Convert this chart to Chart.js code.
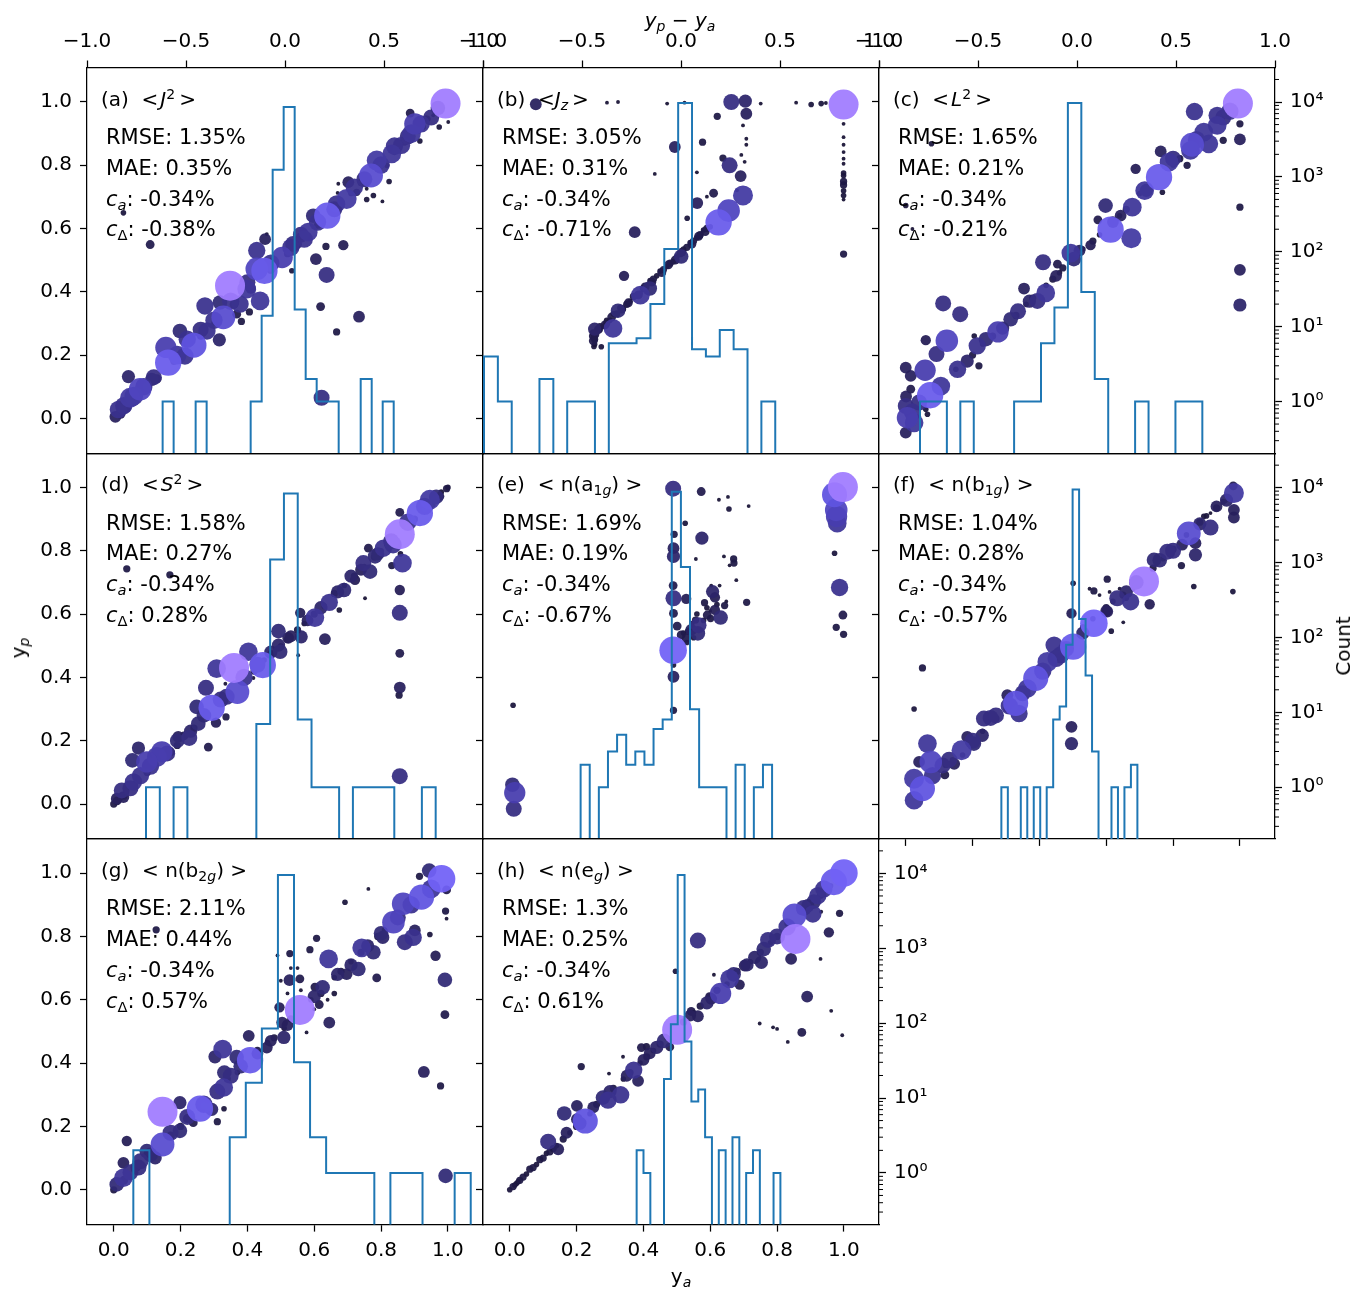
<!DOCTYPE html>
<html>
<head>
<meta charset="utf-8">
<script src="https://cdn.jsdelivr.net/npm/chart.js@4.4.1/dist/chart.umd.min.js"></script>
<style>
  body { margin: 0; background: #fff; font-family: 'DejaVu Sans', sans-serif; }
  #fig { position: relative; width: 1371px; height: 1292px; overflow: hidden; background: #fff; }
  #fig canvas { position: absolute; left: 0; top: 0; }
  .txt { position: absolute; color: #000; white-space: nowrap; }
  .ttl { font-size: 20px; line-height: 24px; }
  .stats { font-size: 21px; line-height: 30.8px; }
  .axlab { font-size: 20px; line-height: 24px; }
  sub { font-size: 0.7em; vertical-align: -0.28em; line-height: 0; }
  sup { font-size: 0.7em; vertical-align: 0.5em; line-height: 0; }
</style>
</head>
<body>
<div id="fig"></div>
<script>
// panel labels and scores
const panelTags = ['a', 'b', 'c', 'd', 'e', 'f', 'g', 'h'];
const panelNames = [
  '&lt;&#8202;<i>J</i><sup>2</sup>&#8201;&gt;',
  '&lt;<i>J<sub>z</sub></i>&#8201;&gt;',
  '&lt;&#8202;<i>L</i><sup>2</sup>&#8201;&gt;',
  '&lt;&#8202;<i>S</i><sup>2</sup>&#8201;&gt;',
  '&lt;&nbsp;n(a<sub>1<i>g</i></sub>)&nbsp;&gt;',
  '&lt;&nbsp;n(b<sub>1<i>g</i></sub>)&nbsp;&gt;',
  '&lt;&nbsp;n(b<sub>2<i>g</i></sub>)&nbsp;&gt;',
  '&lt;&nbsp;n(e<sub><i>g</i></sub>)&nbsp;&gt;'
];
const rmse = ['1.35', '3.05', '1.65', '1.58', '1.69', '1.04', '2.11', '1.3'];
const mae = ['0.35', '0.31', '0.21', '0.27', '0.19', '0.28', '0.44', '0.25'];
const cA = ['-0.34', '-0.34', '-0.34', '-0.34', '-0.34', '-0.34', '-0.34', '-0.34'];
const cDelta = ['-0.38', '-0.71', '-0.21', '0.28', '-0.67', '-0.57', '0.57', '0.61'];

// axis ticks and ranges
const xTicks = [0, 0.2, 0.4, 0.6, 0.8, 1.0];
const yTicks = [0, 0.2, 0.4, 0.6, 0.8, 1.0];
const diffTicks = [-1, -0.5, 0, 0.5, 1];
const countTicks = [1, 10, 100, 1000, 10000];
const yaRange = [-0.08, 1.105];
const ypRange = [-0.11, 1.108];
const countRange = [0.204, 28900];

// scatter points: [y_a, y_p, weight]
const ptsA = [
  [0.993,0.994,1],[0.348,0.419,1],[0.639,0.640,0.85],[0.770,0.767,0.75],[0.451,0.466,0.85],[0.428,0.472,0.7],
  [0.328,0.319,0.75],[0.240,0.231,0.8],[0.163,0.176,0.85],[0.156,0.224,0.65],[0.079,0.092,0.7],[0.049,0.065,0.6],
  [0.014,0.028,0.5],[0.901,0.930,0.65],[0.891,0.899,0.55],[0.861,0.862,0.5],[0.832,0.835,0.55],[0.787,0.814,0.6],
  [0.697,0.693,0.6],[0.667,0.677,0.5],[0.597,0.640,0.4],[0.582,0.588,0.55],[0.570,0.566,0.5],[0.537,0.551,0.45],
  [0.504,0.508,0.65],[0.428,0.530,0.5],[0.453,0.566,0.3],[0.438,0.371,0.55],[0.398,0.408,0.55],[0.378,0.361,0.5],
  [0.273,0.355,0.5],[0.318,0.366,0.4],[0.279,0.276,0.5],[0.316,0.248,0.35],[0.198,0.276,0.4],[0.213,0.197,0.5],
  [0.114,0.123,0.35],[0.044,0.132,0.35],[0.637,0.453,0.45],[0.605,0.503,0.3],[0.687,0.547,0.25],[0.619,0.353,0.2],
  [0.734,0.321,0.3],[0.667,0.273,0.15],[0.622,0.065,0.45],[0.109,0.549,0.2],[0.029,0.649,0.1],[0.702,0.746,0.3],
  [0.887,0.964,0.2],[0.936,0.946,0.15],[0.956,0.957,0.05],[0.926,0.920,0.1],[0.846,0.851,0.1],[0.817,0.799,0.1],
  [0.757,0.725,0.05],[0.727,0.714,0.15],[0.804,0.685,0.05],[0.757,0.691,0.1],[0.777,0.704,0.1],[0.824,0.748,0.1],
  [0.916,0.876,0.1],[1.001,0.936,0.05],[0.974,0.920,0.1],[0.533,0.466,0.1],[0.635,0.543,0.15],[0.406,0.336,0.15],
  [0.382,0.306,0.15],[0.368,0.329,0.2],[0.458,0.582,0.05],[0.473,0.503,0.05],[0.672,0.741,0.05],[0.670,0.712,0.05],
  [0.005,0.005,0.3],[0.02,0.015,0.25],[0.035,0.035,0.3],[0.06,0.055,0.25],[0.10,0.10,0.2],[0.13,0.125,0.2],
  [0.18,0.18,0.15],[0.26,0.26,0.15],[0.30,0.30,0.1],[0.36,0.36,0.2],[0.41,0.41,0.25],[0.47,0.47,0.2],
  [0.52,0.52,0.15],[0.55,0.55,0.2],[0.61,0.61,0.15],[0.66,0.665,0.15],[0.71,0.71,0.1],[0.74,0.745,0.15],
  [0.80,0.80,0.15],[0.84,0.84,0.1],[0.87,0.875,0.2],[0.91,0.91,0.15],[0.94,0.945,0.1],[0.97,0.97,0.1],
  [0.03,0.04,0.5],[0.06,0.07,0.55],[0.09,0.10,0.5],[0.12,0.13,0.45],[0.19,0.20,0.55],[0.22,0.25,0.5],
  [0.26,0.28,0.45],[0.30,0.31,0.5],[0.35,0.37,0.5],[0.40,0.43,0.45],[0.47,0.49,0.5],[0.53,0.54,0.5],
  [0.56,0.58,0.45],[0.61,0.62,0.5],[0.66,0.66,0.45],[0.72,0.73,0.5],[0.75,0.755,0.45],[0.80,0.80,0.5],
  [0.84,0.86,0.5],[0.88,0.89,0.45],[0.92,0.93,0.5],[0.95,0.95,0.45],[0.97,0.98,0.4]
];
const ptsB = [
  [0.999,0.991,1],[0.625,0.619,0.85],[0.655,0.656,0.7],[0.698,0.704,0.6],[0.658,0.799,0.45],[0.691,0.765,0.3],
  [0.663,0.999,0.45],[0.705,1.002,0.35],[0.708,0.962,0.3],[0.621,0.954,0.15],[0.494,0.857,0.3],[0.577,0.872,0.15],
  [0.561,0.680,0.3],[0.531,0.632,0.1],[0.374,0.588,0.3],[0.342,0.450,0.25],[0.391,0.389,0.55],[0.324,0.340,0.4],
  [0.309,0.284,0.55],[0.254,0.282,0.35],[0.419,0.410,0.4],[0.513,0.511,0.4],[0.078,0.992,0.3],[0.610,0.711,0.2],
  [0.638,0.822,0.15],[0.291,0.997,0.05],[0.324,0.999,0.05],[0.471,0.994,0.05],[0.523,0.997,0.05],[0.751,0.994,0.05],
  [0.857,0.997,0.05],[0.902,0.991,0.1],[0.932,0.994,0.1],[0.946,0.996,0.05],[0.999,0.930,0.05],[0.999,0.888,0.05],
  [0.999,0.864,0.05],[0.999,0.841,0.05],[0.999,0.820,0.05],[0.999,0.804,0.05],[0.999,0.775,0.1],[0.999,0.767,0.1],
  [0.999,0.748,0.15],[0.999,0.737,0.15],[0.999,0.719,0.1],[0.999,0.704,0.1],[0.999,0.691,0.05],[0.999,0.519,0.15],
  [0.698,0.925,0.05],[0.708,0.883,0.05],[0.708,0.864,0.05],[0.693,0.832,0.05],[0.703,0.810,0.05],[0.560,0.777,0.05],
  [0.434,0.772,0.05],[0.274,0.226,0.1],[0.252,0.227,0.1],[0.254,0.250,0.15],[0.254,0.234,0.1],[0.68,0.72,0.05],
  [0.59,0.70,0.05],[0.25,0.27,0.15],[0.26,0.275,0.1],[0.27,0.29,0.15],[0.28,0.29,0.1],[0.29,0.30,0.15],
  [0.30,0.31,0.1],[0.32,0.33,0.15],[0.33,0.35,0.1],[0.35,0.36,0.15],[0.36,0.37,0.1],[0.37,0.385,0.15],
  [0.38,0.39,0.1],[0.40,0.41,0.15],[0.41,0.42,0.1],[0.43,0.44,0.15],[0.44,0.45,0.1],[0.45,0.465,0.1],
  [0.46,0.47,0.15],[0.47,0.48,0.1],[0.48,0.49,0.15],[0.50,0.51,0.1],[0.51,0.52,0.15],[0.52,0.53,0.1],
  [0.53,0.54,0.15],[0.54,0.555,0.1],[0.55,0.56,0.15],[0.56,0.57,0.1],[0.57,0.58,0.15],[0.58,0.595,0.1],
  [0.59,0.60,0.15],[0.60,0.605,0.1],[0.31,0.33,0.1],[0.34,0.345,0.1],[0.39,0.395,0.1],[0.42,0.435,0.1],
  [0.49,0.495,0.1],[0.52,0.535,0.1],[0.57,0.575,0.1],[0.29,0.31,0.1],[0.27,0.28,0.1],[0.25,0.255,0.1],
  [0.255,0.265,0.2],[0.265,0.28,0.2],[0.285,0.295,0.2],[0.305,0.32,0.2],[0.335,0.345,0.2],[0.355,0.365,0.2],
  [0.385,0.39,0.2],[0.405,0.415,0.2],[0.425,0.43,0.2],[0.455,0.46,0.2],[0.475,0.485,0.2],[0.495,0.50,0.2],
  [0.515,0.525,0.2],[0.545,0.55,0.2],[0.565,0.575,0.2],[0.585,0.59,0.2],[0.25,0.245,0.2],[0.25,0.26,0.2]
];
const ptsC = [
  [0.994,0.994,1],[0.758,0.762,0.85],[0.613,0.596,0.85],[0.675,0.569,0.6],[0.073,0.073,0.85],[0.058,0.152,0.65],
  [0.123,0.245,0.7],[0.005,0.002,0.65],[0.025,-0.014,0.55],[0.000,-0.045,0.3],[0.000,0.039,0.45],[0.001,0.069,0.3],
  [0.000,0.160,0.3],[0.015,0.134,0.3],[0.015,0.092,0.2],[0.060,0.247,0.25],[0.092,0.203,0.45],[0.112,0.363,0.45],
  [0.163,0.329,0.45],[0.105,0.102,0.55],[0.155,0.155,0.5],[0.184,0.181,0.35],[0.219,0.166,0.15],[0.214,0.229,0.5],
  [0.276,0.273,0.65],[0.314,0.313,0.4],[0.336,0.338,0.45],[0.354,0.410,0.3],[0.394,0.371,0.45],[0.419,0.396,0.55],
  [0.411,0.493,0.45],[0.454,0.487,0.2],[0.494,0.522,0.55],[0.503,0.503,0.4],[0.553,0.547,0.25],[0.598,0.672,0.4],
  [0.575,0.627,0.2],[0.643,0.640,0.3],[0.678,0.667,0.55],[0.715,0.719,0.55],[0.763,0.843,0.3],[0.688,0.788,0.25],
  [0.788,0.809,0.55],[0.852,0.846,0.55],[0.857,0.864,0.75],[0.907,0.867,0.55],[0.892,0.904,0.55],[0.932,0.925,0.55],
  [0.932,0.957,0.5],[0.864,0.969,0.5],[0.950,0.878,0.15],[1.000,0.930,0.15],[1.000,0.881,0.3],[1.000,0.667,0.15],
  [1.000,0.469,0.3],[1.000,0.358,0.35],[0.842,0.799,0.15],[0.822,0.825,0.05],[0.768,0.714,0.1],[0.205,0.260,0.1],
  [0.065,0.013,0.1],[0.060,0.029,0.1],[0.077,0.867,0.1],[0.000,0.672,0.1],[0.020,0.598,0.05],
  [0.15,0.155,0.1],[0.20,0.20,0.15],[0.23,0.235,0.1],[0.26,0.26,0.15],[0.29,0.29,0.1],[0.33,0.325,0.15],
  [0.36,0.36,0.1],[0.38,0.38,0.15],[0.42,0.42,0.1],[0.44,0.44,0.15],[0.46,0.46,0.1],[0.47,0.475,0.15],
  [0.51,0.52,0.1],[0.53,0.535,0.1],[0.56,0.56,0.15],[0.58,0.58,0.1],[0.64,0.64,0.1],[0.66,0.66,0.15],
  [0.70,0.71,0.1],[0.80,0.80,0.1],[0.82,0.82,0.15],[0.84,0.84,0.1],
  [0.24,0.25,0.4],[0.29,0.285,0.35],[0.37,0.37,0.35],[0.45,0.45,0.3],[0.52,0.53,0.3],[0.62,0.62,0.3],
  [0.72,0.72,0.35],[0.80,0.82,0.45],[0.87,0.88,0.5],[0.95,0.95,0.45],[0.97,0.97,0.5],[0.02,0.02,0.5],[0.04,0.05,0.45]
];
const ptsD = [
  [0.856,0.852,1],[0.916,0.919,0.85],[0.946,0.961,0.6],[0.360,0.430,1],[0.446,0.439,0.85],[0.293,0.304,0.85],
  [0.370,0.354,0.75],[0.308,0.428,0.55],[0.403,0.481,0.55],[0.276,0.367,0.45],[0.248,0.307,0.4],[0.338,0.339,0.45],
  [0.144,0.165,0.65],[0.099,0.133,0.65],[0.129,0.149,0.6],[0.074,0.177,0.35],[0.056,0.138,0.4],[0.059,0.070,0.5],
  [0.024,0.043,0.45],[0.009,0.017,0.3],[0.029,0.022,0.3],[0.226,0.209,0.45],[0.193,0.212,0.3],[0.253,0.254,0.4],
  [0.306,0.257,0.25],[0.283,0.180,0.2],[0.493,0.546,0.4],[0.493,0.502,0.35],[0.498,0.481,0.4],[0.522,0.525,0.3],
  [0.558,0.604,0.25],[0.561,0.528,0.35],[0.602,0.589,0.55],[0.632,0.521,0.3],[0.645,0.637,0.5],[0.689,0.676,0.4],
  [0.722,0.708,0.25],[0.747,0.761,0.45],[0.767,0.734,0.4],[0.782,0.782,0.4],[0.807,0.808,0.5],[0.836,0.819,0.5],
  [0.864,0.761,0.55],[0.856,0.676,0.25],[0.856,0.604,0.45],[0.856,0.476,0.2],[0.856,0.368,0.3],[0.854,0.344,0.15],
  [0.856,0.088,0.45],[0.856,0.921,0.2],[0.832,0.753,0.15],[0.858,0.790,0.1],[0.762,0.808,0.2],[0.752,0.650,0.05],
  [0.675,0.613,0.1],[0.552,0.470,0.05],[0.039,0.743,0.15],[0.168,0.724,0.15],[0.976,0.972,0.2],[0.996,0.996,0.15],
  [0.955,0.945,0.1],[0.336,0.275,0.15],[0.334,0.380,0.05],[0.418,0.398,0.05],
  [0.0,0.0,0.15],[0.01,0.01,0.2],[0.03,0.025,0.15],[0.06,0.06,0.2],[0.10,0.10,0.15],[0.15,0.15,0.15],
  [0.17,0.165,0.2],[0.19,0.185,0.15],[0.21,0.215,0.2],[0.24,0.24,0.15],[0.42,0.42,0.15],[0.45,0.455,0.1],
  [0.47,0.475,0.15],[0.50,0.50,0.1],[0.52,0.52,0.15],[0.55,0.55,0.15],[0.57,0.57,0.1],[0.60,0.60,0.15],
  [0.63,0.625,0.1],[0.66,0.665,0.15],[0.69,0.69,0.1],[0.72,0.72,0.15],[0.75,0.75,0.1],[0.78,0.78,0.15],
  [0.80,0.80,0.1],[0.82,0.82,0.15],[0.88,0.875,0.1],[0.90,0.90,0.15],[0.93,0.93,0.1],[0.96,0.96,0.15],
  [0.98,0.985,0.1],[1.0,1.0,0.1],
  [0.05,0.05,0.45],[0.08,0.09,0.5],[0.11,0.12,0.5],[0.16,0.16,0.45],[0.19,0.20,0.4],[0.23,0.23,0.35],
  [0.27,0.28,0.4],[0.32,0.33,0.45],[0.39,0.40,0.5],[0.43,0.44,0.45],[0.47,0.48,0.35],[0.53,0.53,0.3],
  [0.58,0.58,0.3],[0.62,0.62,0.35],[0.67,0.67,0.35],[0.71,0.72,0.35],[0.74,0.74,0.3],[0.79,0.79,0.35],
  [0.83,0.83,0.45],[0.88,0.89,0.5],[0.93,0.94,0.5],[0.965,0.97,0.4]
];
const ptsE = [
  [0.997,1.001,1],[0.972,0.977,0.8],[0.977,0.929,0.7],[0.978,0.908,0.65],[0.980,0.887,0.55],[0.987,0.684,0.5],
  [0.972,0.792,0.1],[0.997,0.597,0.2],[0.977,0.558,0.15],[0.999,0.536,0.15],[0.489,0.486,0.9],[0.489,0.996,0.45],
  [0.573,0.987,0.2],[0.575,0.840,0.35],[0.525,0.887,0.1],[0.492,0.852,0.15],[0.490,0.808,0.3],[0.490,0.782,0.35],
  [0.489,0.690,0.2],[0.490,0.650,0.45],[0.528,0.648,0.25],[0.490,0.602,0.2],[0.501,0.562,0.2],[0.490,0.402,0.3],
  [0.490,0.439,0.1],[0.490,0.296,0.15],[0.565,0.565,0.45],[0.563,0.539,0.4],[0.543,0.550,0.3],[0.513,0.534,0.2],
  [0.528,0.523,0.2],[0.607,0.671,0.35],[0.614,0.653,0.25],[0.614,0.613,0.25],[0.631,0.589,0.4],[0.591,0.597,0.2],
  [0.583,0.636,0.15],[0.601,0.586,0.15],[0.643,0.627,0.15],[0.648,0.640,0.05],[0.560,0.600,0.1],[0.556,0.581,0.15],
  [0.670,0.774,0.15],[0.671,0.761,0.15],[0.658,0.754,0.05],[0.641,0.782,0.05],[0.678,0.707,0.05],[0.709,0.637,0.15],
  [0.628,0.690,0.05],[0.603,0.690,0.05],[0.557,0.774,0.05],[0.626,0.961,0.05],[0.653,0.970,0.05],[0.656,0.932,0.1],
  [0.715,0.941,0.05],[0.010,0.312,0.1],[0.015,0.036,0.65],[0.008,0.061,0.4],[0.012,-0.015,0.45],
  [0.535,0.545,0.15],[0.545,0.57,0.1],[0.52,0.54,0.1],[0.58,0.58,0.1],[0.59,0.62,0.1],[0.60,0.61,0.05],
  [0.62,0.63,0.1],[0.53,0.51,0.1],[0.55,0.525,0.1]
];
const ptsF = [
  [0.713,0.703,1],[0.563,0.571,0.9],[0.501,0.497,0.85],[0.389,0.397,0.8],[0.329,0.318,0.8],[0.847,0.855,0.75],
  [0.050,0.049,0.8],[0.075,0.133,0.7],[0.025,0.012,0.55],[0.025,0.080,0.6],[0.167,0.170,0.6],[0.982,0.982,0.6],
  [0.980,1.005,0.2],[0.982,0.929,0.3],[0.982,0.905,0.3],[0.912,0.873,0.45],[0.867,0.787,0.35],[0.867,0.824,0.3],
  [0.827,0.819,0.3],[0.783,0.797,0.45],[0.743,0.771,0.4],[0.673,0.639,0.5],[0.633,0.650,0.45],[0.603,0.710,0.15],
  [0.563,0.673,0.15],[0.496,0.602,0.25],[0.501,0.697,0.1],[0.603,0.608,0.3],[0.444,0.502,0.5],[0.464,0.471,0.5],
  [0.424,0.449,0.6],[0.364,0.365,0.55],[0.339,0.286,0.5],[0.304,0.344,0.3],[0.234,0.270,0.45],[0.254,0.272,0.45],
  [0.229,0.217,0.35],[0.184,0.212,0.3],[0.204,0.191,0.4],[0.065,0.191,0.55],[0.040,0.133,0.3],[0.110,0.122,0.45],
  [0.145,0.127,0.3],[0.117,0.092,0.2],[0.496,0.244,0.3],[0.496,0.191,0.35],[0.050,0.430,0.15],[0.025,0.300,0.1],
  [0.862,0.687,0.1],[0.979,0.671,0.1],[0.825,0.753,0.15],[0.730,0.631,0.25],[0.615,0.546,0.1],[0.651,0.574,0.05],
  [0.957,0.956,0.05],[0.892,0.909,0.1],[0.912,0.919,0.05],
  [0.53,0.56,0.1],[0.56,0.585,0.1],[0.60,0.62,0.15],[0.62,0.64,0.1],[0.65,0.66,0.15],[0.68,0.68,0.1],
  [0.70,0.70,0.1],[0.74,0.745,0.15],[0.77,0.775,0.1],[0.80,0.805,0.15],[0.84,0.85,0.1],[0.88,0.89,0.15],
  [0.90,0.91,0.1],[0.93,0.935,0.15],[0.95,0.955,0.1],[0.23,0.23,0.1],[0.27,0.27,0.15],[0.30,0.30,0.1],
  [0.12,0.125,0.15],[0.14,0.14,0.1],[0.17,0.155,0.1],[0.58,0.66,0.05],[0.55,0.68,0.05],[0.61,0.67,0.05],
  [0.64,0.68,0.05],[0.66,0.65,0.1],[0.69,0.69,0.1],
  [0.08,0.09,0.5],[0.13,0.14,0.45],[0.20,0.20,0.45],[0.27,0.28,0.45],[0.31,0.31,0.5],[0.35,0.35,0.45],
  [0.41,0.42,0.5],[0.45,0.46,0.5],[0.48,0.49,0.45],[0.53,0.54,0.35],[0.60,0.61,0.3],[0.66,0.67,0.35],
  [0.69,0.70,0.4],[0.76,0.77,0.4],[0.80,0.80,0.45],[0.88,0.885,0.35],[0.93,0.94,0.3],[0.96,0.96,0.35]
];
const ptsG = [
  [0.146,0.246,1],[0.557,0.568,1],[0.981,0.982,0.9],[0.921,0.924,0.8],[0.866,0.903,0.7],[0.837,0.845,0.7],
  [0.258,0.256,0.85],[0.408,0.409,0.85],[0.326,0.444,0.55],[0.146,0.143,0.75],[0.029,0.038,0.55],[0.009,0.017,0.4],
  [0.029,0.085,0.3],[0.039,0.154,0.25],[0.074,0.070,0.45],[0.099,0.122,0.4],[0.124,0.101,0.35],[0.198,0.275,0.35],
  [0.198,0.186,0.4],[0.238,0.212,0.2],[0.293,0.254,0.35],[0.329,0.323,0.55],[0.331,0.370,0.4],[0.303,0.420,0.35],
  [0.368,0.419,0.4],[0.404,0.486,0.3],[0.310,0.215,0.15],[0.330,0.256,0.1],[0.458,0.449,0.3],[0.509,0.481,0.35],
  [0.496,0.576,0.25],[0.526,0.662,0.3],[0.557,0.666,0.2],[0.527,0.746,0.15],[0.577,0.497,0.05],[0.602,0.640,0.2],
  [0.615,0.585,0.2],[0.645,0.528,0.3],[0.643,0.729,0.55],[0.625,0.639,0.4],[0.697,0.681,0.3],[0.732,0.697,0.4],
  [0.742,0.764,0.55],[0.787,0.669,0.2],[0.777,0.750,0.4],[0.805,0.797,0.35],[0.896,0.797,0.5],[0.871,0.782,0.45],
  [0.901,0.819,0.3],[0.963,0.739,0.25],[0.991,0.663,0.4],[0.991,0.553,0.2],[0.928,0.372,0.3],[0.978,0.328,0.15],
  [0.993,0.044,0.4],[0.944,1.008,0.4],[0.996,0.947,0.2],[0.993,0.880,0.15],[0.915,0.990,0.15],[0.762,0.950,0.05],
  [0.692,0.908,0.1],[0.587,0.758,0.15],[0.607,0.794,0.15],[0.127,0.821,0.15],[0.946,0.806,0.1],[0.996,0.856,0.05],
  [0.504,0.528,0.3],
  [0.0,0.0,0.15],[0.03,0.03,0.2],[0.07,0.07,0.15],[0.17,0.17,0.2],[0.20,0.20,0.15],[0.22,0.225,0.2],
  [0.27,0.265,0.15],[0.34,0.35,0.15],[0.37,0.37,0.1],[0.43,0.44,0.15],[0.46,0.465,0.1],[0.48,0.48,0.15],
  [0.51,0.51,0.1],[0.53,0.54,0.15],[0.59,0.60,0.1],[0.62,0.62,0.15],[0.66,0.67,0.1],[0.68,0.69,0.15],
  [0.71,0.72,0.1],[0.74,0.75,0.15],[0.76,0.77,0.1],[0.79,0.80,0.15],[0.81,0.82,0.1],[0.85,0.86,0.1],
  [0.88,0.89,0.1],[0.50,0.66,0.05],[0.53,0.70,0.05],[0.52,0.62,0.05],[0.56,0.63,0.05],[0.55,0.70,0.05],
  [0.60,0.57,0.05],[0.64,0.60,0.05],[0.66,0.62,0.1],[0.49,0.74,0.05],
  [0.05,0.055,0.45],[0.08,0.09,0.45],[0.11,0.11,0.4],[0.17,0.18,0.45],[0.22,0.23,0.45],[0.27,0.27,0.5],
  [0.31,0.31,0.45],[0.35,0.36,0.45],[0.38,0.39,0.4],[0.43,0.43,0.3],[0.47,0.47,0.3],[0.52,0.52,0.3],
  [0.60,0.61,0.35],[0.67,0.68,0.35],[0.71,0.71,0.35],[0.76,0.77,0.35],[0.80,0.81,0.4],[0.85,0.86,0.45],
  [0.89,0.90,0.5],[0.95,0.95,0.55]
];
const ptsH = [
  [0.501,0.505,1],[0.855,0.792,1],[1.000,1.000,0.9],[0.970,0.972,0.85],[0.852,0.866,0.75],[0.226,0.217,0.8],
  [0.631,0.620,0.65],[0.658,0.666,0.55],[0.563,0.787,0.45],[0.890,0.610,0.3],[0.842,0.729,0.3],[0.773,0.789,0.45],
  [0.753,0.718,0.35],[0.733,0.734,0.35],[0.703,0.708,0.3],[0.688,0.648,0.25],[0.907,0.871,0.5],[0.922,0.929,0.5],
  [0.892,0.897,0.35],[0.955,0.813,0.25],[0.987,0.873,0.15],[0.932,0.878,0.05],[0.874,0.497,0.2],[0.962,0.565,0.05],
  [0.995,0.488,0.05],[0.748,0.525,0.05],[0.788,0.513,0.05],[0.800,0.508,0.05],[0.832,0.467,0.05],[0.930,0.729,0.05],
  [0.371,0.378,0.5],[0.332,0.300,0.5],[0.294,0.283,0.5],[0.279,0.291,0.4],[0.163,0.241,0.4],[0.201,0.265,0.3],
  [0.201,0.223,0.3],[0.115,0.152,0.45],[0.145,0.128,0.3],[0.214,0.389,0.15],[0.384,0.344,0.3],[0.419,0.431,0.3],
  [0.394,0.449,0.2],[0.462,0.470,0.4],[0.479,0.451,0.2],[0.496,0.690,0.1],[0.563,0.548,0.3],[0.543,0.563,0.2],
  [0.598,0.610,0.2],[0.603,0.603,0.3],[0.611,0.679,0.05],[0.297,0.367,0.05],[0.339,0.420,0.05],[0.409,0.452,0.15],
  [0,0,0.1],[0.01,0.01,0.15],[0.02,0.02,0.1],[0.03,0.03,0.15],[0.05,0.05,0.1],[0.06,0.065,0.15],
  [0.08,0.08,0.1],[0.09,0.095,0.15],[0.11,0.115,0.1],[0.12,0.12,0.15],[0.14,0.14,0.1],[0.16,0.16,0.15],
  [0.18,0.18,0.1],[0.2,0.2,0.15],[0.24,0.24,0.1],[0.26,0.27,0.15],[0.28,0.29,0.1],[0.31,0.32,0.15],
  [0.34,0.35,0.1],[0.36,0.37,0.15],[0.39,0.40,0.1],[0.41,0.42,0.15],[0.43,0.44,0.1],[0.45,0.46,0.15],
  [0.47,0.48,0.1],[0.52,0.53,0.15],[0.55,0.56,0.1],[0.57,0.58,0.15],[0.6,0.6,0.1],[0.62,0.63,0.15],
  [0.65,0.65,0.1],[0.68,0.69,0.15],[0.72,0.72,0.1],[0.75,0.75,0.15],[0.78,0.78,0.1],[0.8,0.8,0.15],
  [0.83,0.84,0.1],[0.87,0.88,0.15],[0.9,0.91,0.1],[0.93,0.93,0.15],[0.96,0.96,0.1],[0.98,0.98,0.1],
  [0.17,0.18,0.3],[0.21,0.21,0.35],[0.25,0.26,0.3],[0.30,0.31,0.35],[0.35,0.36,0.3],[0.40,0.41,0.3],
  [0.44,0.45,0.35],[0.54,0.55,0.3],[0.59,0.59,0.35],[0.67,0.68,0.4],[0.71,0.71,0.35],[0.76,0.76,0.4],
  [0.80,0.80,0.45],[0.83,0.83,0.5],[0.88,0.89,0.45],[0.91,0.91,0.4],[0.94,0.95,0.5],
  [0.015,0.015,0.1],[0.025,0.025,0.1],[0.04,0.04,0.15],[0.07,0.07,0.15],[0.10,0.10,0.15],[0.13,0.13,0.15]
];

// histograms of y_p - y_a: counts per bin, and [first edge, last edge]
const histA = [1,0,0,1,0,0,0,0,1,14,1250,8600,17,2,1,1,0,0,2,0,1];
const histB = [4,1,0,0,2,0,1,1,0,6,6,7,20,109,9700,5,4,9,5,0,1];
const histC = [1,1,0,1,0,0,0,1,1,6,18,9700,29,2,0,0,1,0,0,1,1];
const histD = [1,0,1,0,0,0,0,0,7,1100,8400,8,1,1,0,1,1,1,0,0,1];
const histE = [2,0,1,3,5,2,3,2,6,8,8800,870,11,1,1,1,0,2,0,1,2];
const histF = [1,0,0,1,0,1,0,1,8,12,80,9500,177,31,3,0,0,1,0,1,2];
const histG = [2,0,0,0,0,0,3,16,85,9500,30,3,1,1,1,0,1,1,0,0,1];
const histH = [2,1,0,0,18,97,9500,57,9,13,3,0,2,0,3,0,1,2,0,0,1];
const edgesA = [-0.618, 0.549];
const edgesB = [-0.995, 0.476];
const edgesC = [-0.793, 0.633];
const edgesD = [-0.702, 0.761];
const edgesE = [-0.507, 0.460];
const edgesF = [-0.382, 0.305];
const edgesG = [-0.766, 0.938];
const edgesH = [-0.224, 0.502];

const panelPts = [ptsA, ptsB, ptsC, ptsD, ptsE, ptsF, ptsG, ptsH];
const panelHist = [histA, histB, histC, histD, histE, histF, histG, histH];
const panelEdges = [edgesA, edgesB, edgesC, edgesD, edgesE, edgesF, edgesG, edgesH];

// figure geometry
const figW = 1371, figH = 1292;
const gridLeft = 87, gridTop = 67.5, cellW = 396, cellH = 385.7;
const histFloor = 0.01;
const supDigits = ['\u2070', '\u00b9', '\u00b2', '\u00b3', '\u2074'];

const shadeStops = [
  [0, [22, 17, 46]], [0.3, [40, 33, 94]], [0.5, [58, 50, 142]], [0.65, [72, 62, 174]],
  [0.8, [96, 84, 224]], [0.9, [114, 98, 246]], [1, [160, 124, 255]]
];

function shade(w) {
  for (let k = 1; k < shadeStops.length; k++) {
    const [w1, c1] = shadeStops[k];
    const [w0, c0] = shadeStops[k - 1];
    if (w <= w1) {
      const t = (w - w0) / (w1 - w0);
      const c = c0.map((v, j) => Math.round(v + (c1[j] - v) * t));
      return `rgba(${c[0]}, ${c[1]}, ${c[2]}, 0.94)`;
    }
  }
  return 'rgba(160, 124, 255, 0.94)';
}

// bubble radius in px from the point weight
function radius(w) {
  return 0.8 + 14.2 * Math.pow(w, 0.85);
}

function stepPoints(counts, edges) {
  const [lo, hi] = edges;
  const bw = (hi - lo) / counts.length;
  const pts = [{ x: lo, y: histFloor }];
  counts.forEach((c, i) => {
    const v = c > 0 ? c : histFloor;
    pts.push({ x: lo + i * bw, y: v }, { x: lo + (i + 1) * bw, y: v });
  });
  pts.push({ x: hi, y: histFloor });
  return pts;
}

const minorLogTicks = {
  id: 'minorLogTicks',
  afterDraw(chart, args, opts) {
    if (!opts.show) return;
    const s = chart.scales.y2;
    const ctx = chart.ctx;
    ctx.save();
    ctx.strokeStyle = '#000';
    ctx.lineWidth = 1;
    for (let e = -1; e <= 4; e++) {
      for (let m = 2; m <= 9; m++) {
        const v = m * Math.pow(10, e);
        if (v < s.min || v > s.max) continue;
        const py = s.getPixelForValue(v);
        ctx.beginPath();
        ctx.moveTo(s.left, py);
        ctx.lineTo(s.left + 4, py);
        ctx.stroke();
      }
    }
    ctx.restore();
  }
};

const tickFont = { family: "'DejaVu Sans', sans-serif", size: 20 };
const axisBorder = { display: true, color: '#000', width: 1.25 };
function gridOpts(show) {
  return { drawOnChartArea: false, drawTicks: show, tickLength: 7, tickColor: '#000', tickWidth: 1.25 };
}

const fig = document.getElementById('fig');

panelPts.forEach((pts, i) => {
  const col = i % 3, row = Math.floor(i / 3);
  const left = gridLeft + col * cellW, top = gridTop + row * cellH;
  const right = left + cellW, bottom = top + cellH;
  const showCount = col === 2 || i === 7;

  const canvas = document.createElement('canvas');
  canvas.width = figW;
  canvas.height = figH;
  fig.appendChild(canvas);

  const sorted = pts.slice().sort((a, b) => a[2] - b[2]);

  new Chart(canvas.getContext('2d'), {
    type: 'bubble',
    data: {
      datasets: [
        {
          type: 'line',
          data: stepPoints(panelHist[i], panelEdges[i]),
          xAxisID: 'x2',
          yAxisID: 'y2',
          borderColor: '#1f77b4',
          borderWidth: 2,
          pointRadius: 0,
          fill: false,
          tension: 0,
          borderJoinStyle: 'miter',
          clip: 0,
          order: 0
        },
        {
          type: 'bubble',
          data: sorted.map(p => ({ x: p[0], y: p[1], r: radius(p[2]) })),
          xAxisID: 'x',
          yAxisID: 'y',
          backgroundColor: sorted.map(p => shade(p[2])),
          borderWidth: 0,
          order: 1
        }
      ]
    },
    options: {
      responsive: false,
      devicePixelRatio: 1,
      animation: false,
      events: [],
      layout: { padding: 0 },
      plugins: {
        legend: { display: false },
        tooltip: { enabled: false },
        minorLogTicks: { show: showCount }
      },
      scales: {
        x: {
          type: 'linear', position: 'bottom', min: yaRange[0], max: yaRange[1],
          afterBuildTicks: s => { s.ticks = xTicks.map(v => ({ value: v })); },
          afterFit: s => { s.height = figH - bottom; },
          ticks: { display: row === 2, autoSkip: false, maxRotation: 0, padding: 7, color: '#000', font: tickFont,
                   callback: v => v.toFixed(1) },
          grid: gridOpts(row === 2 || i === 5),
          border: axisBorder
        },
        y: {
          type: 'linear', position: 'left', min: ypRange[0], max: ypRange[1],
          afterBuildTicks: s => { s.ticks = yTicks.map(v => ({ value: v })); },
          afterFit: s => { s.width = left; },
          ticks: { display: col === 0, autoSkip: false, padding: 8, color: '#000', font: tickFont,
                   callback: v => v.toFixed(1) },
          grid: gridOpts(true),
          border: axisBorder
        },
        x2: {
          type: 'linear', position: 'top', min: -1, max: 1,
          afterBuildTicks: s => { s.ticks = diffTicks.map(v => ({ value: v })); },
          afterFit: s => { s.height = top; },
          ticks: { display: row === 0, autoSkip: false, maxRotation: 0, padding: 7, color: '#000', font: tickFont,
                   callback: v => (v < 0 ? '\u2212' : '') + Math.abs(v).toFixed(1) },
          grid: gridOpts(row === 0),
          border: axisBorder
        },
        y2: {
          type: 'logarithmic', position: 'right', min: countRange[0], max: countRange[1],
          afterBuildTicks: s => { s.ticks = countTicks.map(v => ({ value: v })); },
          afterFit: s => { s.width = figW - right; },
          ticks: { display: showCount, autoSkip: false, padding: 8, color: '#000', font: tickFont,
                   callback: v => '10' + supDigits[Math.round(Math.log10(v))] },
          grid: gridOpts(showCount),
          border: axisBorder
        }
      }
    },
    plugins: [minorLogTicks]
  });

  const ttl = document.createElement('div');
  ttl.className = 'txt ttl';
  ttl.style.left = (left + 14) + 'px';
  ttl.style.top = (top + 19) + 'px';
  ttl.innerHTML = '(' + panelTags[i] + ')&nbsp;&nbsp;' + panelNames[i];

  const st = document.createElement('div');
  st.className = 'txt stats';
  st.style.left = (left + 19) + 'px';
  st.style.top = (top + 54.5) + 'px';
  st.innerHTML = `RMSE: ${rmse[i]}%<br>MAE: ${mae[i]}%<br><i>c<sub>a</sub></i>: ${cA[i]}%<br><i>c</i><sub>&Delta;</sub>: ${cDelta[i]}%`;

  fig.appendChild(ttl);
  fig.appendChild(st);
});

// axis titles
function axisLabel(html, x, y, rotate) {
  const d = document.createElement('div');
  d.className = 'txt axlab';
  d.style.left = x + 'px';
  d.style.top = y + 'px';
  d.style.transform = 'translate(-50%, -50%)' + (rotate ? ' rotate(-90deg)' : '');
  d.innerHTML = html;
  fig.appendChild(d);
}
axisLabel('<i>y<sub>p</sub></i> &minus; <i>y<sub>a</sub></i>', 680, 20, false);
axisLabel('y<sub><i>a</i></sub>', 681, 1276, false);
axisLabel('y<sub><i>p</i></sub>', 18, 648, true);
axisLabel('Count', 1343, 646, true);
</script>
</body>
</html>
